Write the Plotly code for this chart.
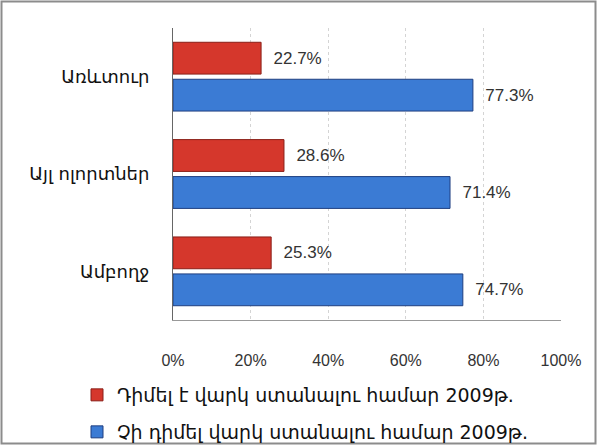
import plotly.graph_objects as go

categories = ["Առևտուր", "Այլ ոլորտներ", "Ամբողջ"]
applied = [22.7, 28.6, 25.3]
not_applied = [77.3, 71.4, 74.7]
series_names = ["Դիմել է վարկ ստանալու համար 2009թ.", "Չի դիմել վարկ ստանալու համար 2009թ."]
tick_vals = [0, 20, 40, 60, 80, 100]
tick_text = ["0%", "20%", "40%", "60%", "80%", "100%"]

W, H = 598, 446
L, R, T, B = 173, 37, 28, 126
pw, ph = W - L - R, H - T - B

def px_x(p):
    return (p - L) / pw

def px_y(p):
    return (H - B - p) / ph

pad = "\u00a0\u00a0"

fig = go.Figure()
fig.add_trace(go.Bar(
    y=categories, x=applied, orientation="h", name=series_names[0],
    marker=dict(color="#d5372c", line=dict(color="#8a1f18", width=1)),
    text=[f"{pad}{v:.1f}%" for v in applied], textposition="outside",
    textfont=dict(size=17, color="#333333", family="Liberation Sans"),
    cliponaxis=False, legend="legend",
))
fig.add_trace(go.Bar(
    y=categories, x=not_applied, orientation="h", name=series_names[1],
    marker=dict(color="#3b7bd4", line=dict(color="#1f3f80", width=1)),
    text=[f"{pad}{v:.1f}%" for v in not_applied], textposition="outside",
    textfont=dict(size=17, color="#333333", family="Liberation Sans"),
    cliponaxis=False, legend="legend2",
))

fig.update_layout(
    width=W, height=H,
    margin=dict(l=L, r=R, t=T, b=B, pad=0, autoexpand=False),
    paper_bgcolor="white", plot_bgcolor="white",
    barmode="group", bargap=0.24, bargroupgap=0.14,
    font=dict(family="DejaVu Sans", color="#222222"),
    xaxis=dict(range=[0, 100], tickvals=tick_vals, ticktext=tick_text,
               showgrid=True, gridcolor="#d4d4d4", griddash="dot", gridwidth=1,
               showline=True, linecolor="#999999", linewidth=1,
               zeroline=False, ticks="", ticklabelstandoff=26,
               tickfont=dict(size=16, color="#333333", family="Liberation Sans")),
    yaxis=dict(autorange="reversed", showline=True, linecolor="#666666", linewidth=1,
               ticks="", ticklabelstandoff=19,
               tickfont=dict(size=18, color="#111111", family="DejaVu Sans")),
    legend=dict(x=px_x(77), y=px_y(395), xanchor="left", yanchor="middle",
                bgcolor="rgba(0,0,0,0)", font=dict(size=19, color="#111111")),
    legend2=dict(x=px_x(77), y=px_y(432), xanchor="left", yanchor="middle",
                 bgcolor="rgba(0,0,0,0)", font=dict(size=19, color="#111111")),
    showlegend=True,
    shapes=[dict(type="rect", xref="paper", yref="paper",
                 x0=px_x(1.5), x1=px_x(595.5), y0=px_y(443.5), y1=px_y(1.5),
                 line=dict(color="#8c8c8c", width=2), fillcolor="rgba(0,0,0,0)",
                 layer="below")],
)

fig.write_html("out.html", config={"displayModeBar": False},
               post_script="document.body.style.margin='0';")
